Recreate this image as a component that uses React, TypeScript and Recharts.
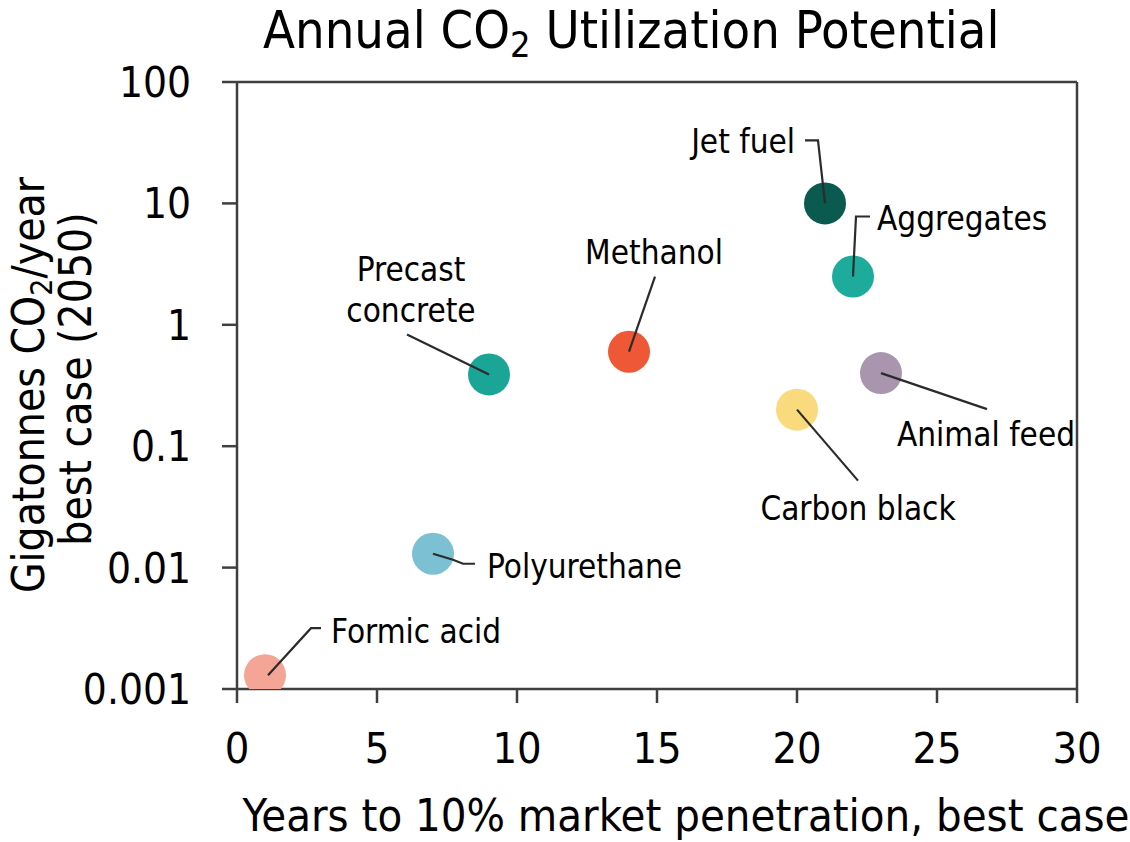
import React from "react";
import { ScatterChart, Scatter, XAxis, YAxis, ReferenceLine } from "recharts";

const products = [
  "Formic acid",
  "Polyurethane",
  "Precast concrete",
  "Methanol",
  "Carbon black",
  "Jet fuel",
  "Aggregates",
  "Animal feed",
];
const yearsToTenPct = [1, 7, 9, 14, 20, 21, 22, 23];
const gigatonnes = [0.0013, 0.013, 0.39, 0.6, 0.2, 10, 2.5, 0.4];

const xTicks = [0, 5, 10, 15, 20, 25, 30];
const yTicks = [0.001, 0.01, 0.1, 1, 10, 100];
const yTickLabels = ["0.001", "0.01", "0.1", "1", "10", "100"];

const COLORS = ["#f4a595", "#7cc1d3", "#1ba596", "#ee5836", "#f9da7c", "#0b5a4f", "#1dab9b", "#a996ae"];

const FONT = "'DejaVu Sans Condensed', 'DejaVu Sans', sans-serif";
const AXIS = "#3f3f3f";
const LEADER = "#2b2b2b";
const DOT_R = 21;

// leader line and label, as offsets from the dot centre
type Callout = {
  path: [number, number][];
  lines: string[];
  dx: number;
  dy: number;
  anchor: "start" | "middle" | "end";
};

const CALLOUTS: Record<string, Callout> = {
  "Formic acid": { path: [[3, 0], [46, -47], [56, -47]], lines: ["Formic acid"], dx: 66, dy: -44, anchor: "start" },
  Polyurethane: { path: [[0, 0], [20, 6], [30, 10], [42, 10]], lines: ["Polyurethane"], dx: 54, dy: 13, anchor: "start" },
  "Precast concrete": { path: [[0, 0], [-82, -40]], lines: ["Precast", "concrete"], dx: -78, dy: -105, anchor: "middle" },
  Methanol: { path: [[0, 0], [26, -75]], lines: ["Methanol"], dx: 25, dy: -99, anchor: "middle" },
  "Carbon black": { path: [[0, 0], [61, 71]], lines: ["Carbon black"], dx: 61, dy: 99, anchor: "middle" },
  "Jet fuel": { path: [[0, 0], [-7, -63], [-20, -63]], lines: ["Jet fuel"], dx: -30, dy: -62, anchor: "end" },
  Aggregates: { path: [[0, 0], [3, -60], [17, -60]], lines: ["Aggregates"], dx: 24, dy: -58, anchor: "start" },
  "Animal feed": { path: [[0, 0], [106, 36]], lines: ["Animal feed"], dx: 16, dy: 61, anchor: "start" },
};

const data = products.map((name, i) => ({ name, x: yearsToTenPct[i], y: gigatonnes[i] }));

function Dot(props: any) {
  const { cx, cy, payload } = props;
  if (cx == null || cy == null) return null;
  const i = products.indexOf(payload.name);
  const c = CALLOUTS[payload.name];
  const pts = c.path.map(([px, py]) => `${cx + px},${cy + py}`).join(" ");
  return (
    <g>
      <circle cx={cx} cy={cy} r={DOT_R} fill={COLORS[i]} />
      <polyline points={pts} fill="none" stroke={LEADER} strokeWidth={2.2} />
      {c.lines.map((line, k) => (
        <text
          key={line}
          x={cx + c.dx}
          y={cy + c.dy + k * 41}
          textAnchor={c.anchor}
          dominantBaseline="central"
          fontFamily={FONT}
          fontStretch="condensed"
          fontSize={33}
          fill="#000"
        >
          {line}
        </text>
      ))}
    </g>
  );
}

export default function App() {
  return (
    <div style={{ position: "absolute", left: 0, top: 0, width: 1130, height: 842, background: "#fff" }}>
      <ScatterChart width={1130} height={842} margin={{ top: 82, right: 53, bottom: 93, left: 137 }}>
        <XAxis
          type="number"
          dataKey="x"
          domain={[0, 30]}
          ticks={xTicks}
          height={60}
          tickSize={14}
          tickMargin={29}
          stroke={AXIS}
          strokeWidth={2.5}
          tick={{ fontSize: 43, fill: "#000", fontFamily: FONT, fontStretch: "condensed" }}
          allowDataOverflow
        />
        <YAxis
          type="number"
          dataKey="y"
          scale="log"
          domain={[0.001, 100]}
          ticks={yTicks}
          width={100}
          tickSize={15}
          tickMargin={31}
          stroke={AXIS}
          strokeWidth={2.5}
          tickFormatter={(v: number) => yTickLabels[yTicks.indexOf(v)] ?? String(v)}
          tick={{ fontSize: 42, fill: "#000", fontFamily: FONT, fontStretch: "condensed" }}
          allowDataOverflow
        />
        <ReferenceLine y={100} stroke={AXIS} strokeWidth={2.5} />
        <ReferenceLine x={30} stroke={AXIS} strokeWidth={2.5} />
        <Scatter data={data} shape={Dot} isAnimationActive={false} />
      </ScatterChart>

      <svg
        width={1130}
        height={842}
        style={{ position: "absolute", left: 0, top: 0, pointerEvents: "none" }}
        fontFamily={FONT}
        fontStretch="condensed"
      >
        <text x={263} y={48} fontSize={52} fill="#000">
          Annual CO
          <tspan dy={9} fontSize={36}>2</tspan>
          <tspan dy={-9}> Utilization Potential</tspan>
        </text>
        <text transform="translate(44,385) rotate(-90)" textAnchor="middle" fontSize={44} fill="#000">
          Gigatonnes CO
          <tspan dy={8} fontSize={30}>2</tspan>
          <tspan dy={-8}>/year</tspan>
        </text>
        <text transform="translate(91,379) rotate(-90)" textAnchor="middle" fontSize={44} fill="#000">
          best case (2050)
        </text>
        <text x={686} y={831} textAnchor="middle" fontSize={45} fill="#000">
          Years to 10% market penetration, best case
        </text>
      </svg>
    </div>
  );
}
